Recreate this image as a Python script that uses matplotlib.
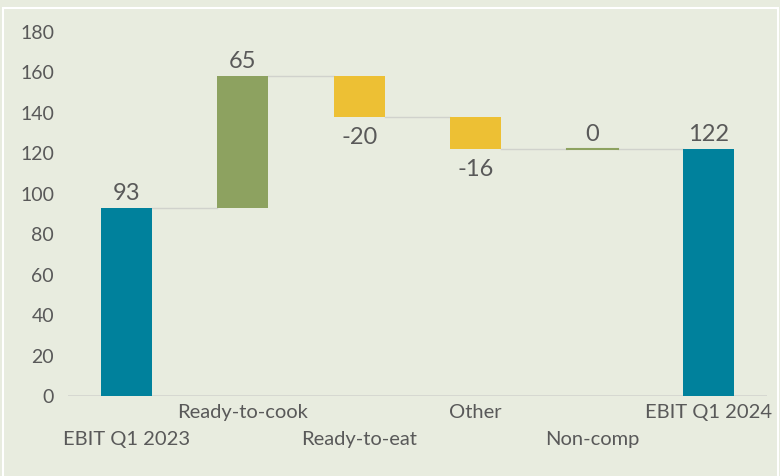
import numpy as np
import matplotlib.pyplot as plt
from matplotlib.patches import Rectangle

# EBIT bridge, Q1 2023 -> Q1 2024
categories = ['EBIT Q1 2023', 'Ready-to-cook', 'Ready-to-eat', 'Other', 'Non-comp', 'EBIT Q1 2024']
changes = [93, 65, -20, -16, 0, 122]
is_total = [True, False, False, False, False, True]

teal = '#00819C'
green = '#8DA260'
yellow = '#EDC034'
grey_text = '#595959'
bg = '#E8ECDF'

plt.rcParams['font.family'] = ['Lato', 'DejaVu Sans']

fig = plt.figure(figsize=(7.8, 4.76), dpi=100, facecolor=bg)
ax = fig.add_axes([68 / 780, 80 / 476, 699 / 780, 364 / 476])
ax.set_facecolor(bg)

# white frame around the chart area
frame_top = 1 - 8 / 476
fig.patches.append(Rectangle((3 / 780, -0.05), 775 / 780, frame_top + 0.05,
                             transform=fig.transFigure, fill=False, edgecolor='white',
                             linewidth=1.5, zorder=0))

x = np.arange(len(categories))
width = 0.44
running = 0
tops = []
for i, (c, tot) in enumerate(zip(changes, is_total)):
    if tot:
        bottom, height = 0, c
        running = c
        color = teal
    else:
        bottom = running if c >= 0 else running + c
        height = abs(c)
        running += c
        color = green if c >= 0 else yellow
    if height > 0:
        ax.bar(x[i], height, width, bottom=bottom, color=color, zorder=3)
    else:
        ax.plot([x[i] - width / 2, x[i] + width / 2], [running, running],
                color=green, linewidth=1.5, zorder=3)
    tops.append(running)
    # value labels: above for gains/totals, below for losses
    if c >= 0:
        ax.text(x[i], bottom + height + 2, f'{c}', ha='center', va='bottom',
                fontsize=17, color=grey_text)
    else:
        ax.text(x[i], bottom - 5, f'{c}', ha='center', va='top',
                fontsize=17, color=grey_text)

# connector lines between bars
for i in range(len(categories) - 1):
    ax.plot([x[i] + width / 2, x[i + 1] - width / 2], [tops[i], tops[i]],
            color='#D0D2CC', linewidth=1, zorder=2)

ax.axhline(0, color='#D3D5CF', linewidth=1.2, zorder=1)

ax.set_xlim(-0.5, 5.5)
ax.set_ylim(0, 180)
ax.set_yticks(np.arange(0, 181, 20))
ax.tick_params(axis='y', length=0, labelsize=14, labelcolor=grey_text, pad=10)
ax.set_xticks([])
for i, name in enumerate(categories):
    ypos = -8 if i % 2 == 1 else -21.5
    ax.text(x[i], ypos, name, ha='center', va='center', fontsize=14.5, color=grey_text)

for s in ax.spines.values():
    s.set_visible(False)

fig.savefig('out.png', dpi=100, facecolor=bg)
